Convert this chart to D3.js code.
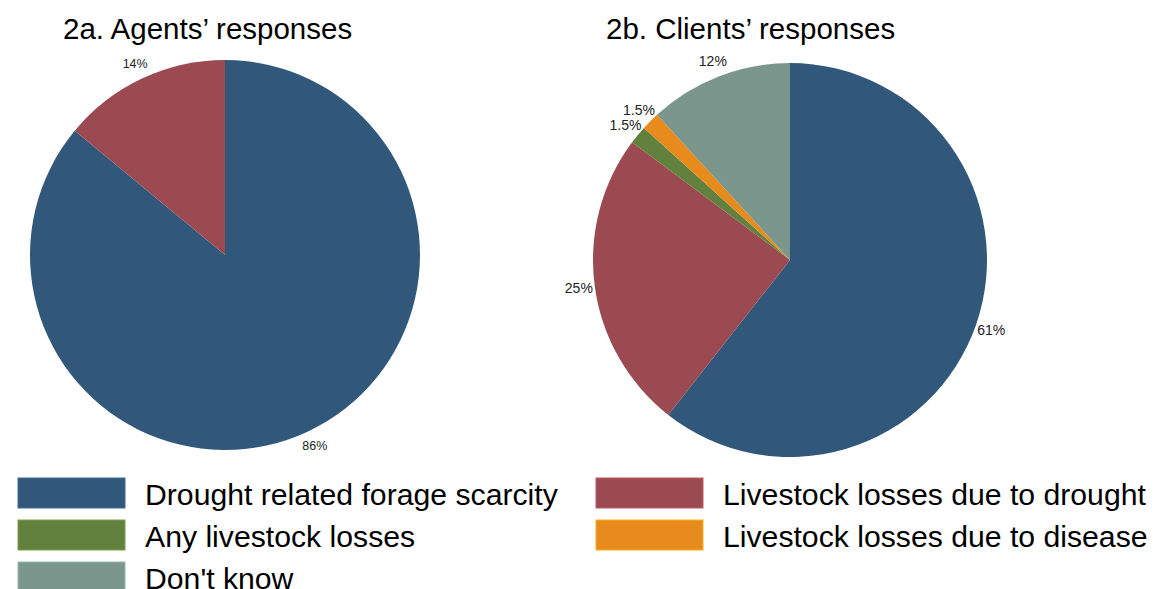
<!DOCTYPE html>
<html>
<head>
<meta charset="utf-8">
<script src="https://cdn.jsdelivr.net/npm/d3@7"></script>
<style>
  body { margin: 0; background: #fff; }
  svg { display: block; font-family: "Liberation Sans", Arial, sans-serif; }
</style>
</head>
<body>
<svg id="chart" width="1153" height="589"></svg>
<script>
// categories in legend order and their colours
const categories = [
  "Drought related forage scarcity",
  "Livestock losses due to drought",
  "Any livestock losses",
  "Livestock losses due to disease",
  "Don't know"
];
const colors = ["#31587b", "#9a4a50", "#63813e", "#e68b1c", "#7b968c"];

// legend layout: two columns, rows filled left to right
const legendOrder = [
  "Drought related forage scarcity", "Livestock losses due to drought",
  "Any livestock losses", "Livestock losses due to disease",
  "Don't know"
];

// shares in percent, drawn clockwise from 12 o'clock
const agentCats = ["Drought related forage scarcity", "Livestock losses due to drought"];
const agentValues = [86, 14];

const clientCats = [
  "Drought related forage scarcity",
  "Livestock losses due to drought",
  "Any livestock losses",
  "Livestock losses due to disease",
  "Don't know"
];
const clientValues = [60.6, 24.6, 1.5, 1.5, 11.8];

const titles = ["2a. Agents\u2019 responses", "2b. Clients\u2019 responses"];

const svg = d3.select("#chart");
const color = d3.scaleOrdinal().domain(categories).range(colors);

const fmt = v => v < 10 ? d3.format(".1f")(v) + "%" : d3.format(".0f")(v) + "%";

function drawPie(cats, values, cx, cy, r, labelSize) {
  const data = cats.map((c, i) => ({cat: c, value: values[i]}));
  const pie = d3.pie().value(d => d.value).sort(null);
  const arc = d3.arc().innerRadius(0).outerRadius(r);
  const labelArc = d3.arc().innerRadius(r + 16).outerRadius(r + 16);

  const g = svg.append("g").attr("transform", `translate(${cx},${cy})`);
  const arcs = pie(data);

  g.selectAll("path")
    .data(arcs)
    .enter().append("path")
      .attr("d", arc)
      .attr("fill", d => color(d.data.cat));

  g.selectAll("text")
    .data(arcs)
    .enter().append("text")
      .attr("transform", d => `translate(${labelArc.centroid(d)})`)
      .attr("text-anchor", "middle")
      .attr("dy", "0.35em")
      .attr("font-size", labelSize)
      .attr("fill", "#222")
      .text(d => fmt(d.data.value));
}

drawPie(agentCats, agentValues, 225, 255, 195, 12.5);
drawPie(clientCats, clientValues, 790, 260, 197, 14);

// titles
svg.append("text").attr("x", 63).attr("y", 39)
  .attr("font-size", 29.5).attr("fill", "#000").text(titles[0]);
svg.append("text").attr("x", 606).attr("y", 39)
  .attr("font-size", 29.5).attr("fill", "#000").text(titles[1]);

// legend
const colX = [18, 596];
const legend = svg.append("g")
  .selectAll("g")
  .data(legendOrder)
  .enter().append("g")
    .attr("transform", (d, i) => `translate(${colX[i % 2]},${478 + Math.floor(i / 2) * 42})`);

legend.append("rect")
  .attr("width", 107)
  .attr("height", 30)
  .attr("fill", d => color(d))
  .attr("stroke", d => d3.color(color(d)).brighter(0.6))
  .attr("stroke-width", 1);

legend.append("text")
  .attr("x", 127)
  .attr("y", 26.5)
  .attr("font-size", 30.2)
  .attr("fill", "#000")
  .text(d => d);
</script>
</body>
</html>
